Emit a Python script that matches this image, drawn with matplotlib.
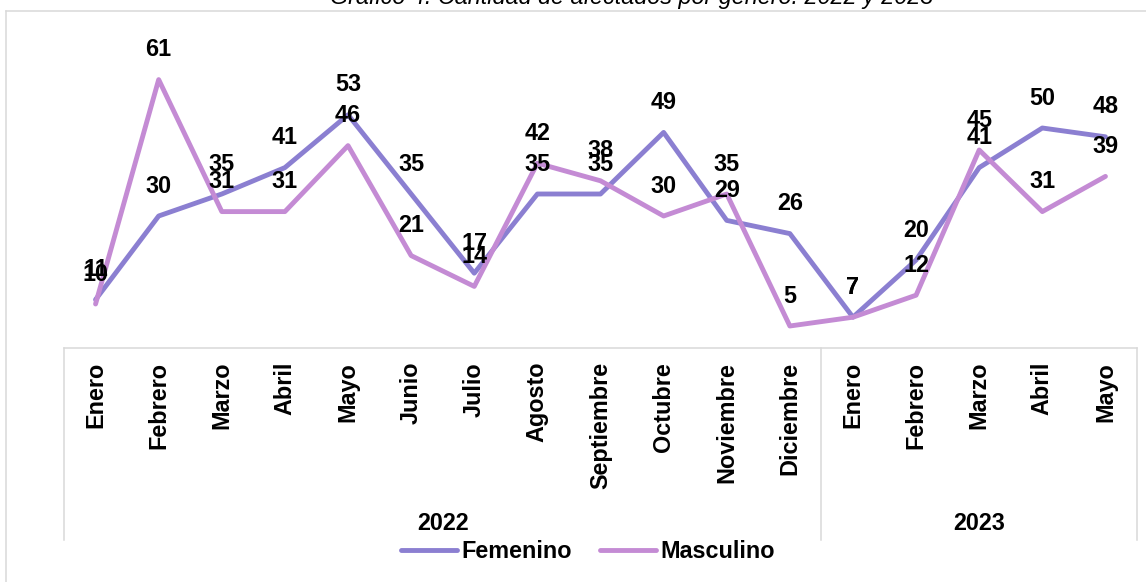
import matplotlib
matplotlib.use("Agg")
import matplotlib.pyplot as plt
from matplotlib.lines import Line2D

months = ["Enero", "Febrero", "Marzo", "Abril", "Mayo", "Junio", "Julio", "Agosto",
          "Septiembre", "Octubre", "Noviembre", "Diciembre",
          "Enero", "Febrero", "Marzo", "Abril", "Mayo"]
years = ["2022", "2023"]
year_counts = [12, 5]
femenino = [11, 30, 35, 41, 53, 35, 17, 35, 35, 49, 29, 26, 7, 20, 41, 50, 48]
masculino = [10, 61, 31, 31, 46, 21, 14, 42, 38, 30, 35, 5, 7, 12, 45, 31, 39]
title = "Gráfico 4. Cantidad de afectados por género. 2022 y 2023"

W, H = 1146, 582
FEM_C = "#8B7FD1"
MAS_C = "#C48BD4"
GRID_C = "#D9D9D9"
FONT = "Liberation Sans"
FS = 16.8

plt.rcParams['font.family'] = [FONT, 'DejaVu Sans']

fig = plt.figure(figsize=(W / 100, H / 100), dpi=100)

def fx(px):
    return px / W

def fy(py):
    return 1 - py / H

left_px, right_px = 64, 1137
bottom_px, top_px = 348, 40
ax = fig.add_axes([fx(left_px), fy(bottom_px), fx(right_px - left_px), (bottom_px - top_px) / H])
x = list(range(len(months)))
l1, = ax.plot(x, femenino, color=FEM_C, lw=3.5, solid_capstyle='round', solid_joinstyle='round', label="Femenino", zorder=3)
l2, = ax.plot(x, masculino, color=MAS_C, lw=3.5, solid_capstyle='round', solid_joinstyle='round', label="Masculino", zorder=3)
ax.set_xlim(-0.5, len(months) - 0.5)
ax.set_ylim(0, 70)
ax.set_yticks([])
for s in ["left", "right", "top"]:
    ax.spines[s].set_visible(False)
ax.spines["bottom"].set_color(GRID_C)
ax.spines["bottom"].set_linewidth(1.1)
ax.set_xticks(x)
ax.set_xticklabels(months, rotation=90, fontsize=FS, fontweight='bold', va='top', ha='center')
ax.tick_params(axis='x', length=0, pad=10)
ax.patch.set_alpha(0)

for xi, v in zip(x, femenino):
    ax.annotate(str(v), (xi, v), xytext=(0, 21.5), textcoords='offset points',
                ha='center', va='center', fontsize=FS, fontweight='bold', color='black', zorder=5)
for xi, v in zip(x, masculino):
    ax.annotate(str(v), (xi, v), xytext=(0, 21.5), textcoords='offset points',
                ha='center', va='center', fontsize=FS, fontweight='bold', color='black', zorder=5)

# category box lines
cat_w = (right_px - left_px) / len(months)
bounds = [left_px]
acc = 0
for c in year_counts:
    acc += c
    bounds.append(left_px + acc * cat_w)
for b in bounds:
    fig.add_artist(Line2D([fx(b), fx(b)], [fy(348), fy(540)], color=GRID_C, lw=1.1))
for i, yl in enumerate(years):
    cx = (bounds[i] + bounds[i + 1]) / 2
    fig.text(fx(cx), fy(523), yl, ha='center', va='center', fontsize=FS, fontweight='bold')

# chart border
fig.add_artist(Line2D([fx(6), fx(W)], [fy(11), fy(11)], color=GRID_C, lw=1.1))
fig.add_artist(Line2D([fx(6), fx(6)], [fy(11), fy(H)], color=GRID_C, lw=1.1))

# title (partly clipped at top, as in the reference)
fig.text(fx(632), fy(4), title, ha='center', va='baseline', fontsize=FS, style='italic')

leg = fig.legend(handles=[l1, l2], loc='center', bbox_to_anchor=(fx(588), fy(552)), ncol=2,
                 frameon=False, prop={'family': FONT, 'weight': 'bold', 'size': FS},
                 handlelength=2.4, handletextpad=0.2, columnspacing=1.2, borderpad=0)

fig.savefig("out.png", dpi=100)
